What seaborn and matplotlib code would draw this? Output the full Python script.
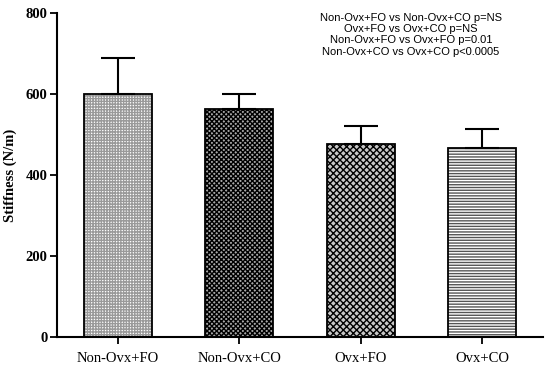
import matplotlib
matplotlib.use('Agg')
import matplotlib.pyplot as plt
import seaborn as sns
import numpy as np
import pandas as pd

groups = ['Non-Ovx+FO', 'Non-Ovx+CO', 'Ovx+FO', 'Ovx+CO']
stiffness = [601, 563, 476, 466]
sem = [89, 37, 46, 47]
yticks = [0, 200, 400, 600, 800]
stats_lines = [
    'Non-Ovx+FO vs Non-Ovx+CO p=NS',
    'Ovx+FO vs Ovx+CO p=NS',
    'Non-Ovx+FO vs Ovx+FO p=0.01',
    'Non-Ovx+CO vs Ovx+CO p<0.0005',
]

sns.set_style('ticks', {'axes.edgecolor': 'black', 'xtick.color': 'black',
                        'ytick.color': 'black', 'text.color': 'black',
                        'axes.labelcolor': 'black'})
plt.rcParams['hatch.linewidth'] = 1.0
serif = ['Liberation Serif', 'DejaVu Serif']
sans = ['Liberation Sans', 'DejaVu Sans']

fig = plt.figure(figsize=(5.5, 3.7), dpi=100)
ax = fig.add_axes([57 / 550, 33 / 370, 486 / 550, 324 / 370])

df = pd.DataFrame({'group': groups, 'stiffness': stiffness})
sns.barplot(data=df, x='group', y='stiffness', ax=ax, width=0.56,
            color='white', linewidth=0, errorbar=None)
styles = [
    dict(face='white', hatch='++++++', hcol='#9a9a9a'),
    dict(face='#a8a8a8', hatch='xxxxxxx', hcol='black'),
    dict(face='#c8c8c8', hatch='xxxxx', hcol='black'),
    dict(face='white', hatch='------', hcol='#555555'),
]
for p, s in zip(ax.patches[:4], styles):
    p.set_facecolor(s['face'])
    p.set_hatch(s['hatch'])
    p.set_edgecolor(s['hcol'])
    p.set_linewidth(0)

sns.barplot(data=df, x='group', y='stiffness', ax=ax, width=0.56,
            fill=False, color='black', linewidth=1.3, errorbar=None)

ax.errorbar(np.arange(len(groups)), stiffness,
            yerr=[np.zeros(len(groups)), sem], fmt='none', ecolor='black',
            elinewidth=1.5, capsize=12, capthick=1.5, zorder=1)

ax.set_xlim(-0.5, 3.5)
ax.set_ylim(0, 800)
ax.set_yticks(yticks)
sns.despine(ax=ax)
for sp in ['left', 'bottom']:
    ax.spines[sp].set_linewidth(1.5)
ax.tick_params(axis='both', width=1.3, length=5, pad=2, colors='black')
ax.tick_params(axis='x', pad=6)

ax.set_xlabel('')
ax.set_ylabel('Stiffness (N/m)', family=serif, fontweight='bold', fontsize=10.5,
              labelpad=6, color='black')
for lab in ax.get_yticklabels():
    lab.set_family(serif)
    lab.set_fontweight('bold')
    lab.set_fontsize(10.5)
for lab in ax.get_xticklabels():
    lab.set_family(serif)
    lab.set_fontsize(10.5)

ax.text((411 - 57) / 486, 1.0, '\n'.join(stats_lines), transform=ax.transAxes,
        ha='center', va='top', family=sans, fontsize=8, linespacing=1.15,
        color='black')

fig.savefig('out.png', dpi=100)
